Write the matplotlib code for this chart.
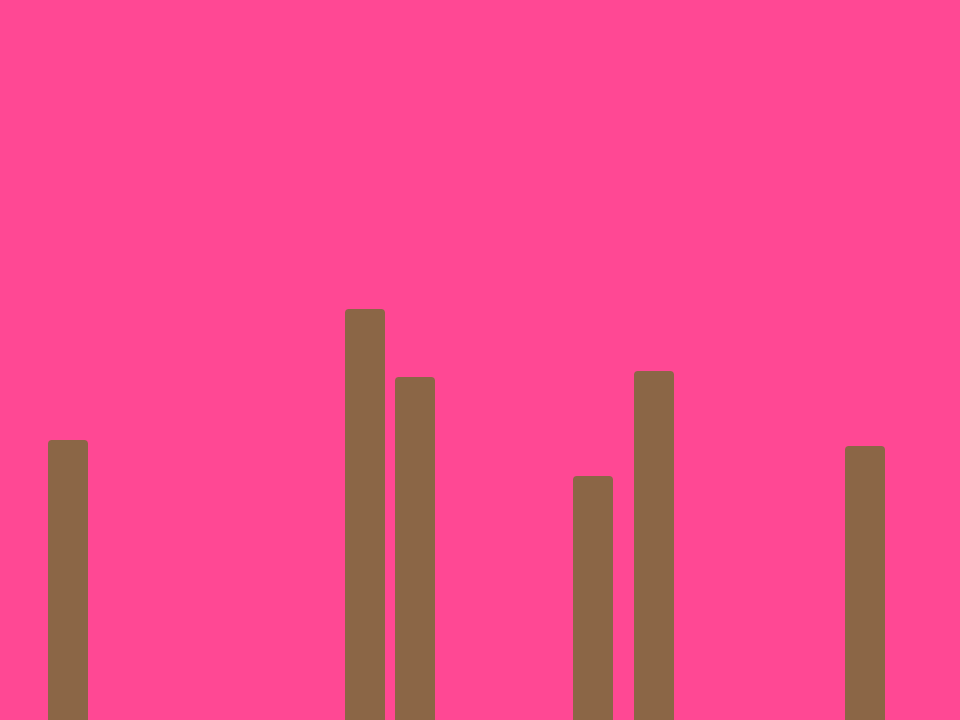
import matplotlib
matplotlib.use("Agg")
import matplotlib.pyplot as plt
from matplotlib.patches import FancyBboxPatch

# bar centres and heights (axis spans 0..960 by 0..720)
positions = [68, 365, 415, 593, 654, 865]
heights = [280, 411, 343, 244, 349, 274]
bar_width = 40

bg = "#FF4894"
bar_color = "#8B6646"

fig = plt.figure(figsize=(9.6, 7.2), dpi=100)
fig.patch.set_facecolor(bg)
ax = fig.add_axes([0, 0, 1, 1])
ax.set_facecolor(bg)
ax.set_xlim(0, 960)
ax.set_ylim(0, 720)
ax.axis("off")

for x, h in zip(positions, heights):
    # extend below the axis so only the top corners show rounded
    box = FancyBboxPatch((x - bar_width / 2, -10), bar_width, h + 10,
                         boxstyle="round,pad=0,rounding_size=4",
                         facecolor=bar_color, edgecolor="none")
    ax.add_patch(box)

fig.savefig("out.png", dpi=100, facecolor=bg)
